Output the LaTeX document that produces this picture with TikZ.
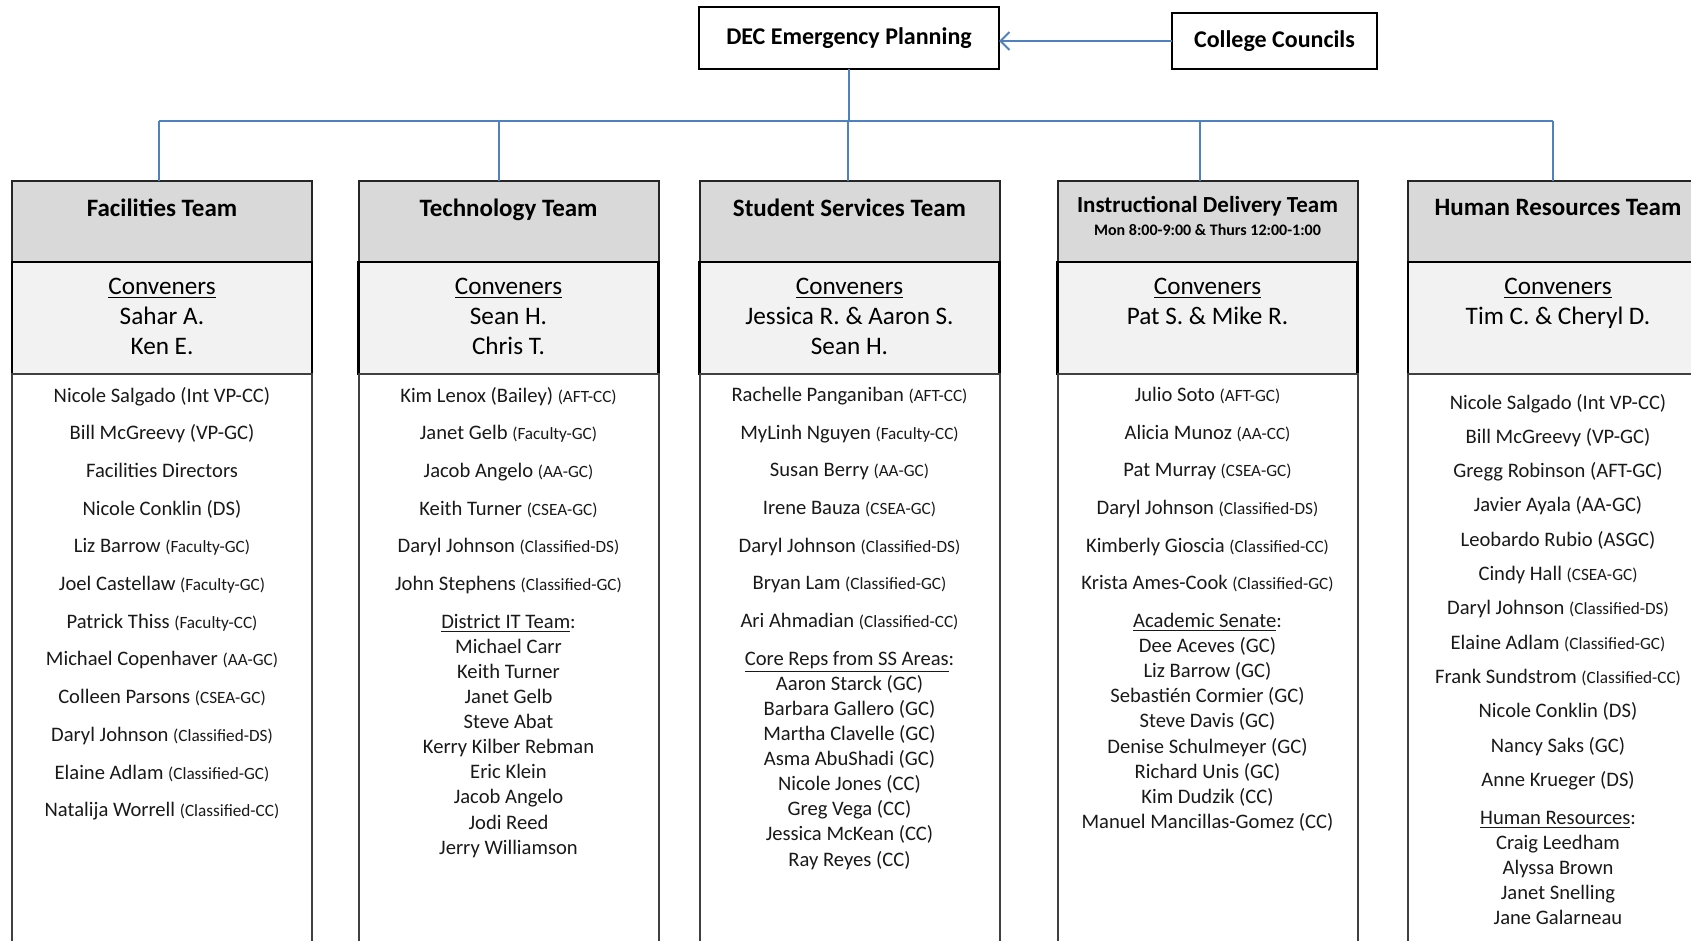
\documentclass[tikz,border=0pt]{standalone}
\usepackage{fontspec}
\setmainfont{Carlito}
\usetikzlibrary{positioning, arrows.meta}

\definecolor{linkblue}{RGB}{79,129,189}
\definecolor{headgray}{RGB}{217,217,217}
\definecolor{convgray}{RGB}{242,242,242}

\newcommand{\aff}[1]{{\fontsize{8.6}{10}\selectfont(#1)}}
\newcommand{\grp}[1]{\underline{#1}:}

\begin{document}
\begin{tikzpicture}[x=0.5pt, y=-0.5pt, node distance=0pt, outer sep=0pt,
    topbox/.style={draw, line width=1pt, font=\fontsize{12}{14}\selectfont\bfseries},
    teamhead/.style={draw=black!85, line width=1pt, fill=headgray, minimum width=150pt,
        minimum height=40.5pt, anchor=north},
    teamtitle/.style={align=center, inner sep=0pt, font=\fontsize{12.5}{15}\selectfont\bfseries},
    convbox/.style={draw=black, line width=1.2pt, fill=convgray, minimum width=150pt, minimum height=56pt},
    convtext/.style={align=center, inner sep=0pt, font=\fontsize{12.6}{15}\selectfont},
    memberbox/.style={draw=black!75, line width=1pt, minimum width=150pt, minimum height=290pt},
    memberlist/.style={align=center, inner sep=0pt, text=black!90,
        font=\fontsize{10.3}{12.55}\selectfont},
    link/.style={draw=linkblue, line width=1pt}]

    \useasboundingbox (0,0) rectangle (1691,941);

    % top row
    \node[topbox, minimum width=150pt, minimum height=31pt]   (DEC)      at (849,38)    {DEC Emergency Planning};
    \node[topbox, minimum width=102.5pt, minimum height=28pt] (Councils) at (1274.5,41) {College Councils};

    % team boxes
    \node[teamhead] (Facilities)    at (162,181)    {};
    \node[teamhead] (Technology)    at (508.5,181)  {};
    \node[teamhead] (Student)       at (849.5,181)  {};
    \node[teamhead] (Instructional) at (1207.5,181) {};
    \node[teamhead] (HR)            at (1558,181)   {};
    \foreach \team in {Facilities, Technology, Student, Instructional, HR} {
        \node[convbox, below=of \team]        (\team-Conv) {};
        \node[memberbox, below=of \team-Conv] (\team-Body) {};
    }

    % team titles
    \node[teamtitle, below=9pt of Facilities.north] (Facilities-Title) {Facilities Team};
    \node[teamtitle, below=9pt of Technology.north] (Technology-Title) {Technology Team};
    \node[teamtitle, below=9pt of Student.north]    (Student-Title)    {Student Services Team};
    \node[teamtitle, below=7.5pt of Instructional.north] (Instructional-Title)
        {{\fontsize{11.5}{14}\selectfont Instructional Delivery Team}\\[-3.2pt]
         {\fontsize{8}{10}\selectfont Mon 8:00-9:00 \& Thurs 12:00-1:00}};
    \node[teamtitle, below=9pt of HR.north]         (HR-Title)         {Human Resources Team};

    % conveners
    \node[convtext, below=8pt of Facilities-Conv.north]    (Facilities-Conveners)    {\underline{Conveners}\\ Sahar A.\\ Ken E.};
    \node[convtext, below=8pt of Technology-Conv.north]    (Technology-Conveners)    {\underline{Conveners}\\ Sean H.\\ Chris T.};
    \node[convtext, below=8pt of Student-Conv.north]       (Student-Conveners)       {\underline{Conveners}\\ Jessica R. \& Aaron S.\\ Sean H.};
    \node[convtext, below=8pt of Instructional-Conv.north] (Instructional-Conveners) {\underline{Conveners}\\ Pat S. \& Mike R.};
    \node[convtext, below=8pt of HR-Conv.north]            (HR-Conveners)            {\underline{Conveners}\\ Tim C. \& Cheryl D.};

    % member lists
    \node[memberlist, below=6.5pt of Facilities-Conv] (Facilities-Names) {
        Nicole Salgado (Int VP-CC)\\[6.3pt]
        Bill McGreevy (VP-GC)\\[6.3pt]
        Facilities Directors\\[6.3pt]
        Nicole Conklin (DS)\\[6.3pt]
        Liz Barrow \aff{Faculty-GC}\\[6.3pt]
        Joel Castellaw \aff{Faculty-GC}\\[6.3pt]
        Patrick Thiss \aff{Faculty-CC}\\[6.3pt]
        Michael Copenhaver \aff{AA-GC}\\[6.3pt]
        Colleen Parsons \aff{CSEA-GC}\\[6.3pt]
        Daryl Johnson \aff{Classified-DS}\\[6.3pt]
        Elaine Adlam \aff{Classified-GC}\\[6.3pt]
        Natalija Worrell \aff{Classified-CC}};
    \node[memberlist, below=6.5pt of Technology-Conv] (Technology-Names) {
        Kim Lenox (Bailey) \aff{AFT-CC}\\[6.3pt]
        Janet Gelb \aff{Faculty-GC}\\[6.3pt]
        Jacob Angelo \aff{AA-GC}\\[6.3pt]
        Keith Turner \aff{CSEA-GC}\\[6.3pt]
        Daryl Johnson \aff{Classified-DS}\\[6.3pt]
        John Stephens \aff{Classified-GC}\\[6.3pt]
        \grp{District IT Team}\\
        Michael Carr\\ Keith Turner\\ Janet Gelb\\ Steve Abat\\ Kerry Kilber Rebman\\
        Eric Klein\\ Jacob Angelo\\ Jodi Reed\\ Jerry Williamson};
    \node[memberlist, below=6.5pt of Student-Conv] (Student-Names) {
        Rachelle Panganiban \aff{AFT-CC}\\[6.3pt]
        MyLinh Nguyen \aff{Faculty-CC}\\[6.3pt]
        Susan Berry \aff{AA-GC}\\[6.3pt]
        Irene Bauza \aff{CSEA-GC}\\[6.3pt]
        Daryl Johnson \aff{Classified-DS}\\[6.3pt]
        Bryan Lam \aff{Classified-GC}\\[6.3pt]
        Ari Ahmadian \aff{Classified-CC}\\[6.3pt]
        \grp{Core Reps from SS Areas}\\
        Aaron Starck (GC)\\ Barbara Gallero (GC)\\ Martha Clavelle (GC)\\ Asma AbuShadi (GC)\\
        Nicole Jones (CC)\\ Greg Vega (CC)\\ Jessica McKean (CC)\\ Ray Reyes (CC)};
    \node[memberlist, below=6.5pt of Instructional-Conv] (Instructional-Names) {
        Julio Soto \aff{AFT-GC}\\[6.3pt]
        Alicia Munoz \aff{AA-CC}\\[6.3pt]
        Pat Murray \aff{CSEA-GC}\\[6.3pt]
        Daryl Johnson \aff{Classified-DS}\\[6.3pt]
        Kimberly Gioscia \aff{Classified-CC}\\[6.3pt]
        Krista Ames-Cook \aff{Classified-GC}\\[6.3pt]
        \grp{Academic Senate}\\
        Dee Aceves (GC)\\ Liz Barrow (GC)\\ Sebastién Cormier (GC)\\ Steve Davis (GC)\\
        Denise Schulmeyer (GC)\\ Richard Unis (GC)\\ Kim Dudzik (CC)\\ Manuel Mancillas-Gomez (CC)};
    \node[memberlist, below=10pt of HR-Conv] (HR-Names) {
        Nicole Salgado (Int VP-CC)\\[4.6pt]
        Bill McGreevy (VP-GC)\\[4.6pt]
        Gregg Robinson (AFT-GC)\\[4.6pt]
        Javier Ayala (AA-GC)\\[4.6pt]
        Leobardo Rubio (ASGC)\\[4.6pt]
        Cindy Hall \aff{CSEA-GC}\\[4.6pt]
        Daryl Johnson \aff{Classified-DS}\\[4.6pt]
        Elaine Adlam \aff{Classified-GC}\\[4.6pt]
        Frank Sundstrom \aff{Classified-CC}\\[4.6pt]
        Nicole Conklin (DS)\\[4.6pt]
        Nancy Saks (GC)\\[4.6pt]
        Anne Krueger (DS)\\[6.3pt]
        \grp{Human Resources}\\
        Craig Leedham\\ Alyssa Brown\\ Janet Snelling\\ Jane Galarneau};

    % connectors
    \coordinate (Bus) at (849,121);
    \draw[link, -{Straight Barb[length=4.5pt, width=9pt]}] (Councils.west) -- (Councils.west -| DEC.east);
    \draw[link] (DEC.south) -- (Bus);
    \draw[link] ([xshift=-1.75pt]Facilities.north |- Bus) -- ([xshift=-2.5pt]HR.north |- Bus);
    \foreach \team/\dx in {Facilities/-1.75, Technology/-4.75, Student/-0.75, Instructional/-3.75, HR/-2.5}
        \draw[link] ([xshift=\dx pt]\team.north) -- ([xshift=\dx pt]\team.north |- Bus);
\end{tikzpicture}
\end{document}
